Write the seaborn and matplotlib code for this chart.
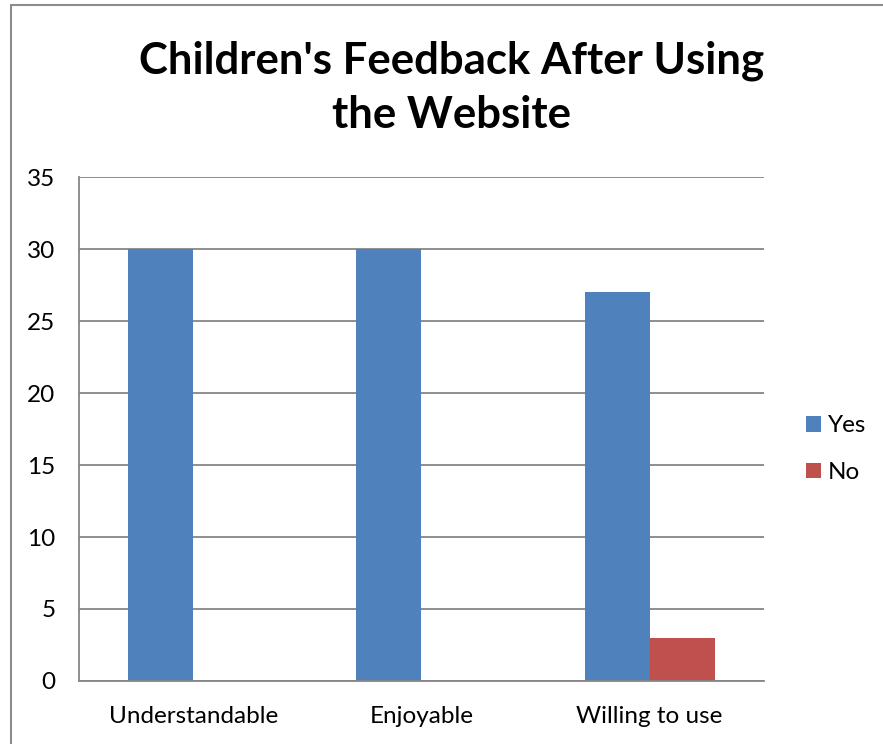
import matplotlib
matplotlib.use('Agg')
import matplotlib.pyplot as plt
import pandas as pd
import seaborn as sns

# Data
categories = ["Understandable", "Enjoyable", "Willing to use"]
yes_values = [30, 30, 27]
no_values = [0, 0, 3]
series = ["Yes", "No"]
COLORS = ["#4F81BD", "#C0504D"]

df = pd.DataFrame({
    "category": categories * 2,
    "answer": ["Yes"] * len(categories) + ["No"] * len(categories),
    "count": yes_values + no_values,
})

sns.set_style("white")
plt.rcParams['font.family'] = ['Lato', 'DejaVu Sans']
plt.rcParams['text.color'] = 'black'

fig = plt.figure(figsize=(8.83, 7.44), dpi=100)
ax = fig.add_axes([0.0895, 0.0847, 0.7755, 0.6773])

sns.barplot(data=df, x="category", y="count", hue="answer", hue_order=series,
            palette=COLORS, width=0.57, saturation=1, linewidth=0, ax=ax, legend=True)

ax.set_ylim(0, 35)
ax.set_yticks(range(0, 36, 5))
ax.set_xlim(-0.5, 2.5)
ax.set_xlabel("")
ax.set_ylabel("")
ax.yaxis.grid(True, color="#868686", linewidth=1.3)
ax.set_axisbelow(True)
for side in ["top", "right"]:
    ax.spines[side].set_visible(False)
for side in ["left", "bottom"]:
    ax.spines[side].set_color("#868686")
    ax.spines[side].set_linewidth(1.3)
ax.tick_params(axis="both", length=0, labelsize=17.5, colors="black")
ax.tick_params(axis="x", pad=18)
ax.tick_params(axis="y", pad=17)

leg = ax.legend(loc="center left", bbox_to_anchor=(1.03, 0.46), frameon=False,
                fontsize=17.5, handlelength=0.6, handleheight=0.6,
                handletextpad=0.3, labelspacing=1.05)
for t in leg.get_texts():
    t.set_color("black")

fig.text(0.511, 0.882, "Children's Feedback After Using\nthe Website",
         ha="center", va="center", fontsize=31.5, fontweight="bold",
         color="black", linespacing=1.42)

# outer chart frame (left and top edges visible in the crop)
fig.add_artist(plt.Line2D([11 / 883, 11 / 883], [0, 1 - 5 / 744],
                          color="#8c8c8c", linewidth=1.5, transform=fig.transFigure))
fig.add_artist(plt.Line2D([11 / 883, 1], [1 - 5 / 744, 1 - 5 / 744],
                          color="#8c8c8c", linewidth=1.5, transform=fig.transFigure))

fig.savefig("out.png", dpi=100)
plt.close(fig)
